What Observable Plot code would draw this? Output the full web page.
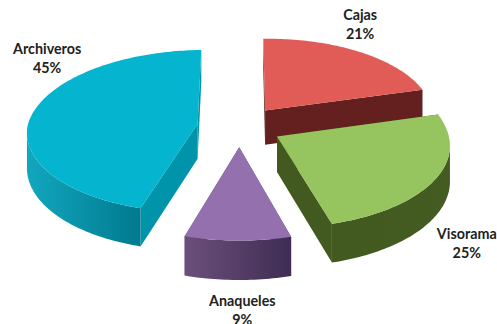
<!DOCTYPE html>
<html>
<head>
<meta charset="utf-8">
<script src="https://cdn.jsdelivr.net/npm/d3@7"></script>
<script src="https://cdn.jsdelivr.net/npm/@observablehq/plot@0.6"></script>
<style>
  html, body { margin: 0; padding: 0; background: #fff; overflow: hidden; }
  svg { display: block; }
</style>
</head>
<body>
<script>
// Storage types and their share of the total, clockwise
const categories = ["Cajas", "Visorama", "Anaqueles", "Archiveros"];
const shares = [21, 25, 9, 45];
const topColors = ["#e15b57", "#96c45f", "#9470ae", "#05b5d0"];
const wallColors = ["#63201e", "#42591f", "#5d4369", "#0094aa"];
const sideLight = ["#63201e", "#42591f", "#6b4f7b", "#12a7bf"];
const sideDark = ["#63201e", "#445b21", "#3f2d53", "#007a8e"];
const labelNudge = [[1, -28], [31, 64], [4.5, 69], [14.5, -56]];
const paintOrder = ["Cajas", "Archiveros", "Visorama", "Anaqueles"];

// Tilted-disc projection with a touch of perspective
const view = {cx: 239, cy: 126, rx: 170, ry: 81, persp: 0.09, lean: 4, depth: 35, explode: 0.25};
function project(X, Y, down) {
  const w = 1 + view.persp * Y;
  return {
    x: view.cx + view.rx * X / w + view.lean * Math.max(Y, 0),
    y: view.cy + (-view.ry * Y + view.depth * down) / w
  };
}

const turnStart = -0.0244;
const arcs = d3.pie().sort(null).startAngle(turnStart).endAngle(2 * Math.PI + turnStart)(shares);
const slices = categories.map((name, i) => {
  const a0 = arcs[i].startAngle, a1 = arcs[i].endAngle, mid = (a0 + a1) / 2;
  const ox = view.explode * Math.sin(mid), oy = view.explode * Math.cos(mid);
  const n = Math.ceil((a1 - a0) / 0.02);
  const rim = d3.range(n + 1).map(j => {
    const a = a0 + (a1 - a0) * j / n;
    return [ox + Math.sin(a), oy + Math.cos(a)];
  });
  return {name, i, mid, apex: [ox, oy], rim};
});

const rows = [];
function addFace(id, shade, corners) {
  for (const [X, Y, down] of corners) rows.push({face: id, shade, ...project(X, Y, down)});
}
for (const name of paintOrder) {
  const s = slices.find(d => d.name === name);
  // The two straight cut walls sit behind the curved wall and the top
  [s.rim[0], s.rim[s.rim.length - 1]].forEach((end, j) => addFace(`${name}-cut-${j}`, wallColors[s.i], [
    [...s.apex, 0], [...end, 0], [...end, 1], [...s.apex, 1]
  ]));
  // Only the part of the curved wall that faces the viewer: going clockwise, it runs right to left
  const px = s.rim.map(p => project(p[0], p[1], 0).x);
  const front = s.rim.filter((_, j) => px[j + 1] < px[j] || px[j - 1] > px[j]);
  if (front.length > 1) {
    addFace(`${name}-outer`, `url(#side-${s.i})`, [
      ...front.map(p => [...p, 0]),
      ...front.slice().reverse().map(p => [...p, 1])
    ]);
  }
  addFace(`${name}-top`, topColors[s.i], [[...s.apex, 0], ...s.rim.map(p => [...p, 0])]);
}

const labels = slices.map(s => {
  const p = project(s.apex[0] + Math.sin(s.mid), s.apex[1] + Math.cos(s.mid), 0);
  return {x: p.x + labelNudge[s.i][0], y: p.y + labelNudge[s.i][1], text: `${s.name}\n${shares[s.i]}%`};
});

// Left-to-right shading of each outer wall
function sideGradients() {
  const defs = d3.create("svg:defs");
  categories.forEach((_, i) => {
    const g = defs.append("linearGradient").attr("id", `side-${i}`);
    g.append("stop").attr("offset", 0).attr("stop-color", sideLight[i]);
    g.append("stop").attr("offset", 1).attr("stop-color", sideDark[i]);
  });
  return defs.node();
}

const chart = Plot.plot({
  width: 497,
  height: 324,
  margin: 0,
  x: {type: "identity", axis: null},
  y: {type: "identity", axis: null},
  color: {type: "identity"},
  marks: [
    sideGradients,
    Plot.line(rows, {
      x: "x", y: "y", z: "face",
      fill: "shade", stroke: "none",
      curve: "linear-closed"
    }),
    Plot.text(labels, {
      x: "x", y: "y", text: "text",
      fontFamily: "Lato", fontSize: 14.3, fontWeight: 700,
      lineHeight: 1.3, fill: "#222"
    })
  ]
});
document.body.appendChild(chart);
</script>
</body>
</html>
